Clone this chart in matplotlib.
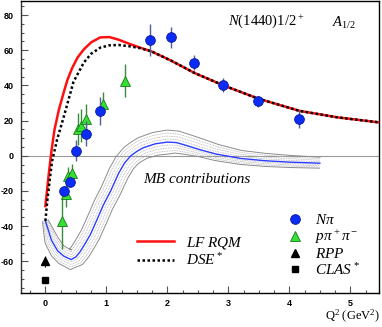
import numpy as np
import matplotlib
matplotlib.use('Agg')
import matplotlib.pyplot as plt
from matplotlib.lines import Line2D

plt.rcParams['mathtext.fontset'] = 'custom'
plt.rcParams['mathtext.rm'] = 'Liberation Serif'
plt.rcParams['mathtext.it'] = 'Liberation Serif:italic'
plt.rcParams['axes.unicode_minus'] = False

# N pi data
npi_q = [0.30, 0.40, 0.50, 0.66, 0.90, 1.72, 2.06, 2.44, 2.92, 3.49, 4.16]
npi_y = [-20, -14.7, 3, 12.6, 25.3, 65.7, 67.4, 53, 40, 31, 21]
npi_e = [3, 3, 6, 7, 8, 9, 6, 4.5, 4, 3, 5]

# p pi+ pi- data
ppp_q = [0.28, 0.345, 0.37, 0.44, 0.54, 0.59, 0.66, 0.95, 1.30]
ppp_y = [-36.8, -21.9, -11.4, -9.5, 15.4, 17.1, 21, 29.7, 42.8]
ppp_e = [16, 7, 5, 5, 9, 9.5, 8.5, 6.5, 9.5]

# RPP / CLAS* photon points
rpp_q, rpp_y, rpp_e = [0.0], [-60.0], [3.0]
clas_q, clas_y, clas_e = [0.0], [-70.5], [1.5]

# LF RQM curve
lf_q = [0.0, 0.05, 0.10, 0.15, 0.22, 0.30, 0.36, 0.44, 0.53, 0.63, 0.75, 0.90,
        1.05, 1.20, 1.39, 1.55, 1.73, 2.05, 2.45, 2.92, 3.49, 4.17, 4.80, 5.47]
lf_y = [-28.6, -12, 3, 15, 26, 36, 43, 50, 56, 60.5, 64.5, 67.3,
        67.5, 66, 63.5, 61.5, 59.5, 54.3, 47, 40, 32.5, 25.5, 21.8, 19]

# DSE* curve
dse_q = [0.0, 0.03, 0.07, 0.11, 0.15, 0.19, 0.30, 0.46, 0.63, 0.75, 0.90, 1.05,
         1.20, 1.39, 1.55, 1.73, 2.05, 2.45, 2.92, 3.49, 4.17, 4.80, 5.47]
dse_y = [-37, -26, -14, -3, 3, 9, 22, 42, 53, 58, 61.5, 62.8,
         63, 62.2, 61.2, 59.5, 54.3, 47, 40, 32.5, 25.5, 21.8, 19]

# MB contributions (central curve) and band half widths (pixels, up / down)
mb_q = [0.0, 0.05, 0.10, 0.20, 0.30, 0.42, 0.50, 0.57, 0.65, 0.74, 0.85, 0.95,
        1.07, 1.20, 1.30, 1.40, 1.50, 1.60, 1.80, 2.00, 2.15, 2.30, 2.54, 2.80,
        3.20, 3.60, 4.00, 4.50]
mb_y = [-37, -42.5, -48, -54, -57, -59, -57.5, -54.5, -50, -44.6, -36, -28,
        -20, -10, -4, 0, 2.5, 4.5, 6.8, 7.8, 7.5, 6, 3.4, 1,
        -1.5, -2.8, -3.6, -4.2]
hw_q = [0.0, 0.1, 0.42, 1.0, 1.5, 2.0, 2.54, 3.2, 4.5]
hw_up = [3, 7, 10, 10, 11, 12, 11, 8, 6]
hw_lo = [3, 7, 10, 10, 11, 12, 7, 6, 5]

fig = plt.figure(figsize=(3.82, 3.27), dpi=100)
ax = fig.add_axes([21/382, 34/327, 358/382, 292/327])
ax.set_xlim(-0.4, 5.47)
ax.set_ylim(-78, 88)

ax.axhline(0, color='#9a9a9a', lw=0.8, zorder=1)

# band around MB curve, offset perpendicular in pixel space
q = np.array(mb_q)
y = np.array(mb_y)
P = ax.transData.transform(np.column_stack([q, y]))
dX = np.gradient(P[:, 0])
dY = np.gradient(P[:, 1])
nrm = np.hypot(dX, dY)
nx, ny = -dY / nrm, dX / nrm
hu = np.interp(q, hw_q, hw_up)
hl = np.interp(q, hw_q, hw_lo)
inv = ax.transData.inverted()
for f in [0.25, 0.5, 0.75, 1.0]:
    for sgn, hw in [(1, hu), (-1, hl)]:
        off = np.column_stack([P[:, 0] + sgn*f*hw*nx, P[:, 1] + sgn*f*hw*ny])
        d = inv.transform(off)
        if f == 1.0:
            ax.plot(d[:, 0], d[:, 1], color='#8c8c8c', lw=0.7, zorder=2)
        else:
            ax.plot(d[:, 0], d[:, 1], color='#b0b0b0', lw=0.6, ls=(0, (1, 1)), zorder=2)
ax.plot(mb_q, mb_y, color='#2a3cff', lw=1.0, zorder=3)

# model curves
ax.plot(lf_q, lf_y, color='#ff1010', lw=1.8, zorder=4)
ax.plot(dse_q, dse_y, color='black', lw=1.8, ls=(0, (1, 1)), zorder=5)

# data
ax.errorbar(ppp_q, ppp_y, yerr=ppp_e, fmt='^', ms=7.5, mfc='#33e033', mec='#1a7a1a',
            mew=0.6, ecolor='#3c8a3c', elinewidth=1.0, capsize=0, zorder=6)
ax.errorbar(npi_q, npi_y, yerr=npi_e, fmt='o', ms=7, mfc='#0a2cf5', mec='#0a1a9a',
            mew=0.6, ecolor='#50609a', elinewidth=1.0, capsize=0, zorder=7)
ax.errorbar(rpp_q, rpp_y, yerr=rpp_e, fmt='^', ms=6, color='black',
            elinewidth=0.8, capsize=0, zorder=7)
ax.errorbar(clas_q, clas_y, yerr=clas_e, fmt='s', ms=5, color='black',
            elinewidth=0.8, capsize=0, zorder=7)

# axes styling
ax.set_xticks([0, 1, 2, 3, 4, 5])
ax.set_xticks(np.arange(-0.25, 5.5, 0.25), minor=True)
ax.set_yticks([-60, -40, -20, 0, 20, 40, 60, 80])
ax.set_yticks(np.arange(-75, 90, 5), minor=True)
ax.tick_params(which='both', direction='in', color='#555555', width=0.8)
ax.tick_params(which='major', length=5)
ax.tick_params(which='minor', length=2.5)
ax.tick_params(axis='y', pad=5)
ax.tick_params(axis='x', pad=4)
for lab in ax.get_xticklabels() + ax.get_yticklabels():
    lab.set_fontfamily('Liberation Sans')
    lab.set_fontweight('bold')
    lab.set_fontsize(6.5)
for s in ax.spines.values():
    s.set_linewidth(1.0)
ax.spines['left'].set_color('#333333')

serif = 'Liberation Serif'
ax.text(0.578, 0.932, r'$\mathit{N(1440)1/2^+}$', transform=ax.transAxes,
        fontsize=10.5, family=serif, va='center', ha='left')
ax.text(0.87, 0.925, r'$\mathit{A_{1/2}}$', transform=ax.transAxes,
        fontsize=10.5, family=serif, va='center', ha='left')
ax.text(0.34, 0.39, 'MB contributions', transform=ax.transAxes,
        fontsize=11, family=serif, style='italic', va='center', ha='left')
fig.text(0.995, 0.032, r'Q$^2$ (GeV$^2$)', fontsize=9, family=serif,
         ha='right', va='center')

# legends
h1 = [Line2D([], [], color='#ff1010', lw=1.8),
      Line2D([], [], color='black', lw=1.8, ls=(0, (1, 1)))]
leg1 = ax.legend(h1, [r'$\mathit{LF\ RQM}$', r'$\mathit{DSE^*}$'],
                 loc='upper left', bbox_to_anchor=(0.324, 0.2), frameon=False,
                 prop={'family': serif, 'size': 11}, handlelength=2.4,
                 handletextpad=0.8, labelspacing=0.1, borderpad=0, borderaxespad=0)
ax.add_artist(leg1)
h2 = [Line2D([], [], ls='none', marker='o', ms=7, mfc='#0a2cf5', mec='#0a1a9a', mew=0.6),
      Line2D([], [], ls='none', marker='^', ms=7.5, mfc='#33e033', mec='#1a7a1a', mew=0.6),
      Line2D([], [], ls='none', marker='^', ms=6, color='black'),
      Line2D([], [], ls='none', marker='s', ms=5, color='black')]
ax.legend(h2, [r'$\mathit{N\pi}$', r'$\mathit{p\pi^+\pi^-}$', r'$\mathit{RPP}$',
               r'$\mathit{CLAS^*}$'],
          loc='upper left', bbox_to_anchor=(0.745, 0.273), frameon=False,
          prop={'family': serif, 'size': 11}, handlelength=1.0,
          handletextpad=0.8, labelspacing=0.05, borderpad=0, borderaxespad=0)

fig.savefig('out.png', dpi=100)
